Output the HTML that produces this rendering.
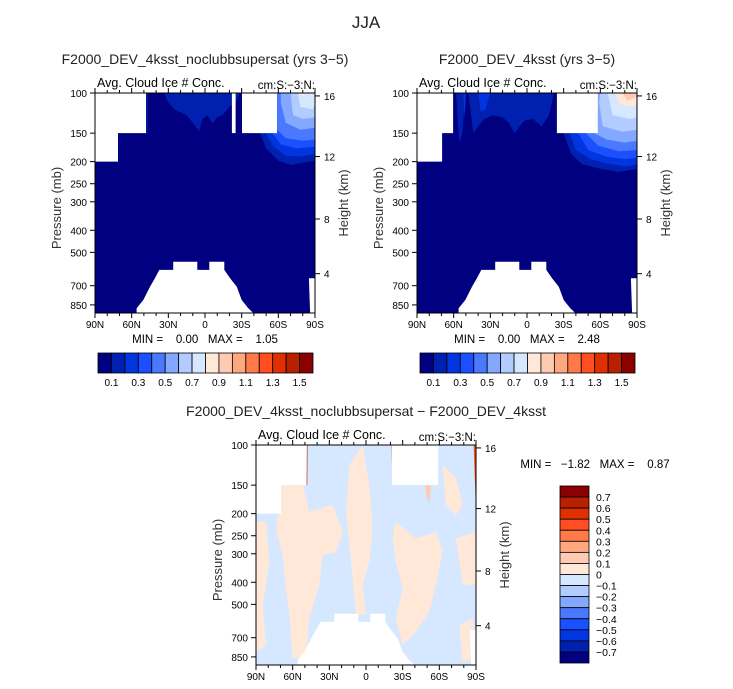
<!DOCTYPE html>
<html><head><meta charset="utf-8"><style>
html,body{margin:0;padding:0;background:#fff}
svg{display:block;font-family:"Liberation Sans",sans-serif}
text{white-space:pre}
</style></head><body>
<svg id="c" width="733" height="689" viewBox="0 0 733 689">
<text x="366" y="28" font-size="17" text-anchor="middle" fill="#222">JJA</text>
</svg>
<script>
const presTicks=[100,150,200,250,300,400,500,700,850];
const heightTicks=[16,12,8,4];
const heightTickPres=[103,190,357,620];
const latTicks=[90,60,30,0,-30,-60,-90];
const latLabels=["90N","60N","30N","0","30S","60S","90S"];
const absColors=["#000080","#0020b0","#0035e0","#1a50ff","#4a78ff","#82a8ff","#b2ccff","#d6e8ff","#ffe8d8","#ffcab2","#ffa880","#ff7a48","#ff4e20","#e03000","#b82000","#8b0000"];
const absLabels=["0.1","0.3","0.5","0.7","0.9","1.1","1.3","1.5"];
const diffColors=["#8b0000","#b82000","#e03000","#ff4e20","#ff7a48","#ffa880","#ffcab2","#ffe8d8","#d6e8ff","#b2ccff","#82a8ff","#4a78ff","#1a50ff","#0035e0","#0020b0","#000080"];
const diffLabels=["0.7","0.6","0.5","0.4","0.3","0.2","0.1","0","\u22120.1","\u22120.2","\u22120.3","\u22120.4","\u22120.5","\u22120.6","\u22120.7"];
const topoMask=[[56,950],[56,879],[50.5,809],[45,707],[41,650],[37.4,597],[26,597],[26,550],[6.3,550],[6.3,597],[-3.5,597],[-3.5,550],[-15.8,550],[-15.8,597],[-20.5,650],[-26,707],[-30,809],[-35.4,879],[-39.5,950]];
const edgeMask=[[-85,650],[-90,650],[-90,950],[-86,950]];
const panel1Masks=[[[90,100],[48.3,100],[48.3,150],[71.2,150],[71.2,200],[90,200]],[[-30.3,100],[-58.9,100],[-58.9,150],[-30.3,150]],[[-22,100],[-25,100],[-25,150],[-22,150]]];
const panel2Masks=[[[90,100],[60.5,100],[60.5,150],[69.5,150],[69.5,200],[90,200]],[[-24.5,100],[-58,100],[-58,150],[-24.5,150]]];
const panel3Masks=[[[90,100],[49,100],[49,150],[69.5,150],[69.5,200],[90,200]],[[-21.3,100],[-59,100],[-59,150],[-21.3,150]]];
const panel1Field=[
 [1,[[48,100],[47,100],[47,150],[48,150]]],
 [1,[[33.5,100],[30,110],[25,118],[15,125],[10,135],[5,147],[2,130],[-2,125],[-6,136],[-10,128],[-15,124],[-20,115],[-26,108],[-28,100]]],
 [1,[[-45,150],[-50,175],[-60,198],[-70,207],[-80,202],[-90,198],[-90,100],[-59,100],[-59,150]]],
 [2,[[-50,150],[-56,172],[-66,188],[-78,190],[-90,185],[-90,100],[-59,100],[-59,150]]],
 [3,[[-55,150],[-62,168],[-75,175],[-90,172],[-90,100],[-59,100],[-59,150]]],
 [4,[[-59,145],[-66,158],[-80,162],[-90,160],[-90,100],[-59,100]]],
 [5,[[-62,110],[-66,135],[-78,145],[-90,142],[-90,100],[-62,100]]],
 [6,[[-70,100],[-72,125],[-80,130],[-90,128],[-90,100]]],
 [7,[[-76,100],[-78,115],[-88,118],[-90,112],[-90,100]]],
 [8,[[-79,100],[-80,104],[-82,100]]],[8,[[-86,100],[-87,104],[-88,100]]]
];
const panel2Field=[
 [1,[[58,100],[56,150],[55,165],[53,150],[50,100]]],
 [2,[[52,100],[51,130],[50,100]]],
 [1,[[48,100],[44,150],[40,140],[35,130],[28,125],[20,128],[15,135],[10,150],[6,140],[2,132],[-5,130],[-12,140],[-18,125],[-22,100]]],
 [2,[[40,100],[38,120],[34,118],[30,100]]],
 [1,[[-30,150],[-36,185],[-45,205],[-60,215],[-75,222],[-90,215],[-90,100],[-58,100],[-58,150]]],
 [2,[[-35,150],[-40,178],[-52,195],[-68,205],[-82,210],[-90,205],[-90,100],[-58,100],[-58,150]]],
 [3,[[-42,150],[-50,178],[-65,190],[-80,195],[-90,192],[-90,100],[-58,100],[-58,150]]],
 [4,[[-48,150],[-58,170],[-75,180],[-90,178],[-90,100],[-58,100],[-58,150]]],
 [5,[[-55,150],[-65,160],[-80,165],[-90,162],[-90,100],[-58,100],[-58,150]]],
 [6,[[-59,110],[-62,140],[-78,148],[-90,145],[-90,100],[-60,100]]],
 [7,[[-66,100],[-70,125],[-84,130],[-90,128],[-90,100]]],
 [8,[[-72,100],[-76,112],[-86,115],[-90,112],[-90,100]]],
 [9,[[-78,100],[-82,108],[-90,104],[-90,100]]]
];
const panel3Field=[
 [8,[[69.5,150],[51.8,150],[46.4,196],[27.3,183],[19.1,240],[24.5,294],[35.5,304],[38.2,410],[46.4,576],[49.1,862],[60,862],[62.7,556],[65.5,425],[68.2,304],[73.6,232],[70.9,196]]],
 [8,[[13.6,122],[2.7,100],[-2.7,150],[-5.5,232],[-2.7,325],[2.7,410],[0,556],[8.2,556],[10.9,385],[13.6,275],[16.4,196]]],
 [8,[[-24.5,217],[-40.9,257],[-57.3,240],[-62.7,294],[-57.3,410],[-51.8,539],[-40.9,659],[-30,754],[-24.5,576],[-30,425],[-24.5,325],[-21.8,257]]],
 [8,[[-62.7,122],[-73.6,140],[-79.1,183],[-73.6,203],[-65.4,183]]],
 [8,[[-73.6,257],[-90,240],[-90,410],[-79.1,410]]],
 [8,[[90,217],[81.8,217],[79.1,325],[84.5,506],[81.8,754],[90,807]]],
 [8,[[-76.4,617],[-87.3,576],[-90,862],[-79.1,892]]],
 [9,[[-48,150],[-50,170],[-52,180],[-53,150]]],
 [12,[[-88,100],[-90,100],[-90,190],[-89,140]]],
 [13,[[48.3,100],[47.8,100],[48,150],[48.5,150]]],
 [13,[[-21,100],[-22,100],[-22,150],[-21.5,150]]]
];
const NS='http://www.w3.org/2000/svg';
const svg=document.getElementById('c');
function mk(tag,attrs,parent){const e=document.createElementNS(NS,tag);for(const k in attrs)e.setAttribute(k,attrs[k]);(parent||svg).appendChild(e);return e;}
function drawPanel(px,py,masks,field,colors,bg,title,minmax,name){
 const W=220,H=220;
 const g=mk('g',{});
 
 
 const X=lat=>px+(90-lat)/180*W;
 const Y=p=>Math.min(py+H,py+Math.log10(p/100)*228);
 const poly=pts=>pts.map(q=>X(q[0]).toFixed(1)+','+Y(q[1]).toFixed(1)).join(' ');
 const clip=mk('clipPath',{id:name+'-clip'},g);mk('rect',{x:px,y:py,width:W,height:H},clip);
 const fg=mk('g',{'clip-path':'url(#'+name+'-clip)'},g);
 const bgr=mk('rect',{x:px,y:py,width:W,height:H,fill:bg},fg);
 
 
 field.forEach(f=>{const e=mk('polygon',{points:poly(f[1]),fill:colors[f[0]]},fg);
  
  });
 masks.concat([topoMask,edgeMask]).forEach(m=>{const e=mk('polygon',{points:poly(m),fill:'#fff'},fg);
  
  });
 mk('rect',{x:px,y:py,width:W,height:H,fill:'none',stroke:'#000','stroke-width':1},g);
 presTicks.forEach(p=>{const y=Y(p);mk('line',{x1:px-5,x2:px,y1:y,y2:y,stroke:'#000'},g);
  const t=mk('text',{x:px-8,y:y+4,'font-size':10,'text-anchor':'end'},g);t.textContent=p;
  
  });
 heightTicks.forEach((h,i)=>{const y=Y(heightTickPres[i]);mk('line',{x1:px+W,x2:px+W+5,y1:y,y2:y,stroke:'#000'},g);
  const t=mk('text',{x:px+W+9,y:y+4,'font-size':10},g);t.textContent=h;
  
  });
 for(let lat=90;lat>=-90;lat-=10){const x=X(lat);const L=lat%30===0?5:3;
  mk('line',{x1:x,x2:x,y1:py+H,y2:py+H+L,stroke:'#000'},g);mk('line',{x1:x,x2:x,y1:py,y2:py-L,stroke:'#000'},g);}
 latTicks.forEach((lat,i)=>{const t=mk('text',{x:X(lat),y:py+H+15,'font-size':10,'text-anchor':'middle'},g);t.textContent=latLabels[i];
  
  });
 const yl=mk('text',{x:0,y:0,'font-size':13,'text-anchor':'middle',fill:'#333',transform:`translate(${px-34},${py+H/2+5}) rotate(-90)`},g);yl.textContent='Pressure (mb)';
 
 
 const hl=mk('text',{x:0,y:0,'font-size':13,'text-anchor':'middle',fill:'#333',transform:`translate(${px+W+33},${py+H/2}) rotate(-90)`},g);hl.textContent='Height (km)';
 
 
 const st=mk('text',{x:px+2,y:py-6,'font-size':12.5},g);st.textContent='Avg. Cloud Ice # Conc.';
 
 
 const un=mk('text',{x:px+W,y:py-4,'font-size':11.5,'text-anchor':'end'},g);un.textContent='cm:S:\u22123:N:';
 
 
 const tt=mk('text',{x:px+W/2,y:py-29,'font-size':14,'text-anchor':'middle',fill:'#222'},g);tt.textContent=title;
 
 
 if(minmax){const m=mk('text',{x:px+W/2,y:py+H+30,'font-size':11.5,'text-anchor':'middle'},g);m.textContent=minmax;
  
  }
 return g;
}
function hColorbar(x0,y0,name){
 const g=mk('g',{});
 
 
 const w=215/absColors.length;
 absColors.forEach((c,i)=>{const r=mk('rect',{x:x0+i*w,y:y0,width:w,height:20,fill:c,stroke:'#000','stroke-width':0.8},g);
  
  });
 absLabels.forEach((l,i)=>{const t=mk('text',{x:x0+(2*i+1)*w,y:y0+33,'font-size':10,'text-anchor':'middle'},g);t.textContent=l;
  
  });
}
drawPanel(95,93,panel1Masks,panel1Field,absColors,absColors[0],'F2000_DEV_4ksst_noclubbsupersat (yrs 3\u22125)','MIN =    0.00   MAX =    1.05','panel-noclubbsupersat');
drawPanel(417,93,panel2Masks,panel2Field,absColors,absColors[0],'F2000_DEV_4ksst (yrs 3\u22125)','MIN =    0.00   MAX =    2.48','panel-4ksst');
drawPanel(256,445,panel3Masks,panel3Field,absColors,'#d6e8ff','F2000_DEV_4ksst_noclubbsupersat \u2212 F2000_DEV_4ksst',null,'panel-difference');
hColorbar(98,353,'colorbar-left');
hColorbar(420,353,'colorbar-right');
const mm=mk('text',{x:595,y:468,'font-size':11.5,'text-anchor':'middle'});mm.textContent='MIN =   \u22121.82   MAX =    0.87';


const vg=mk('g',{});


const vh=177/diffColors.length;
diffColors.forEach((c,i)=>{const r=mk('rect',{x:560,y:486+i*vh,width:29,height:vh,fill:c,stroke:'#000','stroke-width':0.8},vg);
 
 });
diffLabels.forEach((l,i)=>{const t=mk('text',{x:596,y:486+(i+1)*vh+4,'font-size':10.5},vg);t.textContent=l;
 
 });
</script>
</body></html>
